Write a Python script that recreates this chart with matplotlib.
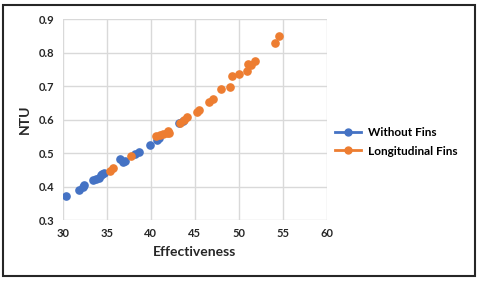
import matplotlib
matplotlib.use("Agg")
import matplotlib.pyplot as plt
from matplotlib.lines import Line2D
from matplotlib.patches import Rectangle

# data
without_x = [30.3, 31.8, 32.3, 32.4, 33.4, 33.8, 34.1, 34.3, 34.5, 34.7, 36.5, 36.85, 37.05,
             38.2, 38.6, 39.9, 40.65, 40.95, 43.2, 43.7]
without_y = [0.372, 0.391, 0.400, 0.404, 0.419, 0.423, 0.427, 0.434, 0.437, 0.440, 0.483, 0.473, 0.475,
             0.497, 0.503, 0.524, 0.539, 0.544, 0.589, 0.595]
fins_x = [35.3, 35.7, 37.7, 40.6, 41.0, 41.4, 41.85, 42.0, 42.1, 43.3, 43.75, 44.05, 45.2, 45.5,
          46.6, 47.1, 47.95, 49.0, 49.2, 50.0, 50.95, 51.06, 51.4, 51.85, 54.1, 54.6]
fins_y = [0.446, 0.454, 0.491, 0.551, 0.554, 0.556, 0.560, 0.567, 0.559, 0.590, 0.600, 0.608, 0.623, 0.628,
          0.652, 0.660, 0.690, 0.696, 0.730, 0.735, 0.744, 0.765, 0.763, 0.776, 0.829, 0.848]

blue = "#4472C4"
orange = "#ED7D31"

plt.rcParams['font.family'] = ['Lato', 'DejaVu Sans']

fig = plt.figure(figsize=(4.8, 2.84), dpi=100)
ax = fig.add_axes([0.131, 0.225, 0.55, 0.708])

ax.plot(without_x, without_y, "o", color=blue, markersize=5.2, zorder=3)
ax.plot(fins_x, fins_y, "o", color=orange, markersize=5.2, zorder=3)

ax.set_xlim(30, 60)
ax.set_ylim(0.3, 0.9)
ax.set_xticks(range(30, 61, 5))
ax.set_yticks([0.3, 0.4, 0.5, 0.6, 0.7, 0.8, 0.9])
ax.set_yticklabels(["0.3", "0.4", "0.5", "0.6", "0.7", "0.8", "0.9"])
ax.grid(color="#d9d9d9", linewidth=1)
ax.set_axisbelow(True)
for s in ax.spines.values():
    s.set_visible(False)
ax.tick_params(length=0, labelsize=8, pad=6)
for lab in ax.get_xticklabels() + ax.get_yticklabels():
    lab.set_fontweight("bold")
    lab.set_color("#262626")

ax.set_xlabel("Effectiveness", fontsize=10, fontweight="bold", color="#262626", labelpad=5)
ax.set_ylabel("NTU", fontsize=10, fontweight="bold", color="#262626", labelpad=6)

handles = [Line2D([], [], color=blue, marker="o", markersize=5, linewidth=2),
           Line2D([], [], color=orange, marker="o", markersize=5, linewidth=2)]
fig.legend(handles, ["Without Fins", "Longitudinal Fins"], loc="center left",
           bbox_to_anchor=(0.675, 0.50), frameon=False, handlelength=2.2,
           prop={"weight": "bold", "size": 8.5}, labelspacing=0.6, handletextpad=0.6)

fig.patches.append(Rectangle((3 / 480, 1 - 276 / 284), 472 / 480, 271 / 284,
                             transform=fig.transFigure, fill=False,
                             edgecolor="#262626", linewidth=1.5))

fig.savefig("out.png", dpi=100)
